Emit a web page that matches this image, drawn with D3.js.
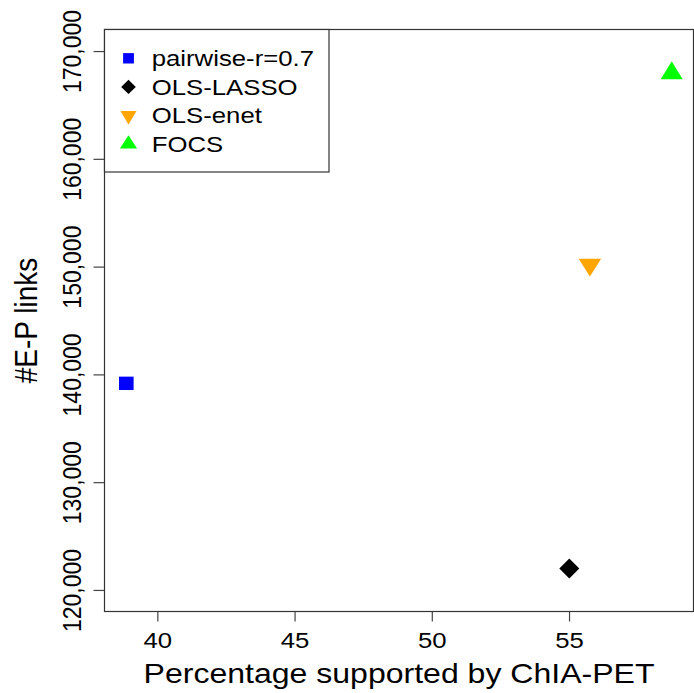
<!DOCTYPE html>
<html>
<head>
<meta charset="utf-8">
<script src="https://cdn.jsdelivr.net/npm/d3@7"></script>
<style>
  html, body { margin: 0; padding: 0; background: #fff; }
  svg { display: block; }
  text { font-family: "Liberation Sans", Arial, Helvetica, sans-serif; fill: #000; }
</style>
</head>
<body>
<script>
// Methods compared: share of links supported by ChIA-PET vs number of E-P links
const methods      = ["pairwise-r=0.7", "OLS-LASSO", "OLS-enet", "FOCS"];
const pctSupported = [38.87, 55.01, 55.76, 58.74];
const epLinks      = [139170, 121990, 150180, 167950];
const colors       = ["#0000ff", "#000000", "#ffa500", "#00ff00"];
const shapes       = ["square", "diamond", "triangleDown", "triangleUp"];
const xTicks       = [40, 45, 50, 55];
const yTicks       = [120000, 130000, 140000, 150000, 160000, 170000];
const yLimits      = [120000, 170000];
const xTitle       = "Percentage supported by ChIA-PET";
const yTitle       = "#E-P links";

const W = 694, H = 693;
const plot = { left: 104.5, right: 693.5, top: 29.5, bottom: 611.5 };
const stretch = 1.15;   // horizontal text widening

// R-style axis ranges: 4% padding on each side
function padded([a, b]) { const p = (b - a) * 0.04; return [a - p, b + p]; }

const x = d3.scaleLinear()
  .domain(padded(d3.extent(pctSupported)))
  .range([plot.left, plot.right]);
const y = d3.scaleLinear()
  .domain(padded(yLimits))
  .range([plot.bottom, plot.top]);

const svg = d3.select("body").append("svg")
  .attr("width", W).attr("height", H);

// marker outlines, half-width / "radius" in px
function markerPath(shape, s) {
  const [hw, r] = s;
  switch (shape) {
    case "square":       return `M${-hw},${-r}H${hw}V${r}H${-hw}Z`;
    case "diamond":      return `M0,${-r}L${hw},0L0,${r}L${-hw},0Z`;
    case "triangleUp":   return `M0,${-r}L${hw},${r / 2}L${-hw},${r / 2}Z`;
    case "triangleDown": return `M0,${r}L${hw},${-r / 2}L${-hw},${-r / 2}Z`;
  }
}
const plotSize = { square: [7.3, 6.7], diamond: [10, 10], triangleDown: [11.3, 11.8], triangleUp: [11, 12] };
const legSize  = { square: [5.4, 5.2], diamond: [7.3, 7.1], triangleDown: [8, 8.9], triangleUp: [8.6, 8.9] };

// axes
const fmt = d3.format(",");
const xAxis = svg.append("g").attr("transform", `translate(0,${plot.bottom})`)
  .call(d3.axisBottom(x).tickValues(xTicks).tickSize(10).tickFormat(d3.format("d")));
xAxis.select(".domain").remove();
xAxis.selectAll(".tick line").attr("stroke", "#444").attr("stroke-width", 1.2);
xAxis.selectAll(".tick text")
  .attr("y", 0).attr("dy", null)
  .attr("transform", `translate(0,36) scale(1.12,1)`)
  .attr("font-size", 23).attr("fill", "#000");

const yAxis = svg.append("g").attr("transform", `translate(${plot.left},0)`)
  .call(d3.axisLeft(y).tickValues(yTicks).tickSize(11).tickFormat(fmt));
yAxis.select(".domain").remove();
yAxis.selectAll(".tick line").attr("stroke", "#444").attr("stroke-width", 1.2);
yAxis.selectAll(".tick text")
  .attr("x", 0).attr("dy", null)
  .attr("text-anchor", "middle")
  .attr("transform", `translate(-24,0) scale(${stretch},1) rotate(-90)`)
  .attr("font-size", 23).attr("fill", "#000");

// plot frame
svg.append("rect")
  .attr("x", plot.left).attr("y", plot.top)
  .attr("width", plot.right - plot.left).attr("height", plot.bottom - plot.top)
  .attr("fill", "none").attr("stroke", "#333").attr("stroke-width", 1.2);

// axis titles
svg.append("text")
  .attr("text-anchor", "middle").attr("font-size", 27.5)
  .attr("transform", `translate(${(plot.left + plot.right) / 2},682.5) scale(1.165,1)`)
  .text(xTitle);
svg.append("text")
  .attr("text-anchor", "middle").attr("font-size", 28)
  .attr("transform", `translate(36.5,${(plot.top + plot.bottom) / 2}) scale(${stretch},1) rotate(-90)`)
  .text(yTitle);

// points
svg.append("g").selectAll("path")
  .data(methods.map((m, i) => ({ m, i })))
  .join("path")
  .attr("transform", d => `translate(${x(pctSupported[d.i])},${y(epLinks[d.i])})`)
  .attr("d", d => markerPath(shapes[d.i], plotSize[shapes[d.i]]))
  .attr("fill", d => colors[d.i]);

// legend
const leg = { left: 104.5, top: 29.5, right: 329, bottom: 172, symX: 128.5, textX: 151.7, row0: 58.3, step: 28.6 };
svg.append("rect")
  .attr("x", leg.left).attr("y", leg.top)
  .attr("width", leg.right - leg.left).attr("height", leg.bottom - leg.top)
  .attr("fill", "#fff").attr("stroke", "#333").attr("stroke-width", 1.2);
const items = svg.append("g").selectAll("g")
  .data(methods.map((m, i) => ({ m, i })))
  .join("g")
  .attr("transform", d => `translate(0,${leg.row0 + d.i * leg.step})`);
items.append("path")
  .attr("transform", `translate(${leg.symX},0)`)
  .attr("d", d => markerPath(shapes[d.i], legSize[shapes[d.i]]))
  .attr("fill", d => colors[d.i]);
items.append("text")
  .attr("font-size", 22)
  .attr("transform", `translate(${leg.textX},7.9) scale(1.17,1)`)
  .text(d => d.m);
</script>
</body>
</html>
